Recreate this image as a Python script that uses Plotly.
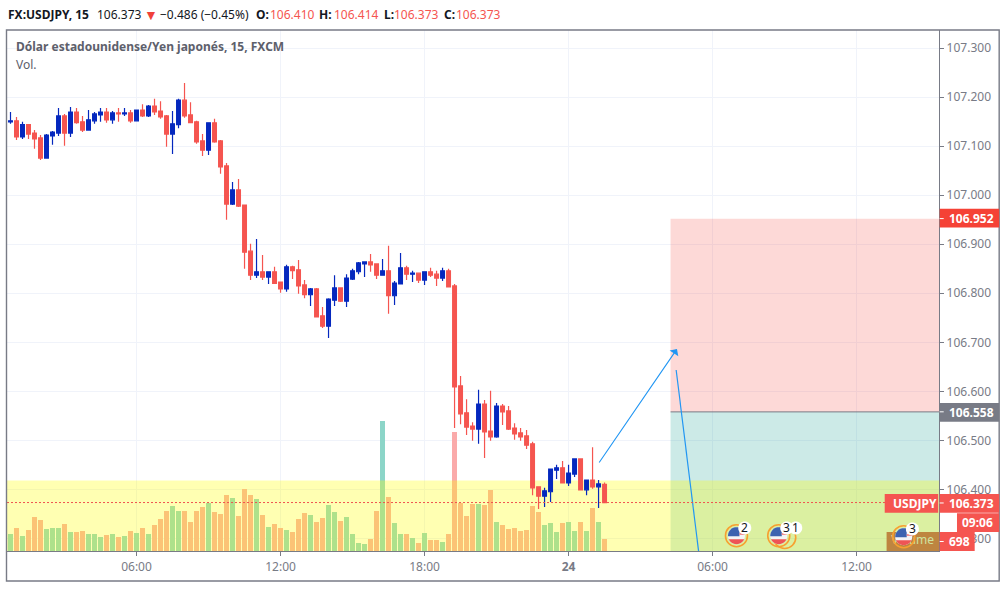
import math
import pandas as pd
import plotly.graph_objects as go

# ---------- data ----------
bar_start = "2019-06-23 00:45"
opens = [107.150,107.152,107.119,107.144,107.127,107.117,107.076,107.121,107.127,107.162,
         107.127,107.170,107.150,107.133,107.152,107.164,107.170,107.154,107.168,107.166,
         107.168,107.152,107.174,107.162,107.182,107.172,107.162,107.125,107.144,107.194,
         107.164,107.150,107.111,107.092,107.148,107.111,107.060,106.982,107.011,106.980,
         106.886,106.837,106.844,106.833,106.844,106.823,106.809,106.854,106.848,106.817,
         106.797,106.809,106.754,106.733,106.786,106.811,106.784,106.829,106.844,106.860,
         106.864,106.860,106.837,106.846,106.795,106.819,106.852,106.839,106.841,106.827,
         106.844,106.839,106.831,106.846,106.815,106.611,106.556,106.529,106.523,106.574,
         106.519,106.507,106.570,106.560,106.525,106.515,106.509,106.493,106.405,106.386,
         106.395,106.439,106.444,106.413,106.431,106.462,106.399,106.419,106.405,106.410]
highs = [107.170,107.160,107.150,107.144,107.133,107.123,107.125,107.131,107.178,107.166,
         107.180,107.178,107.162,107.174,107.170,107.178,107.178,107.172,107.178,107.178,
         107.174,107.174,107.186,107.184,107.197,107.192,107.164,107.172,107.197,107.229,
         107.190,107.152,107.125,107.148,107.156,107.113,107.066,107.027,107.033,106.980,
         106.901,106.911,106.878,106.844,106.854,106.823,106.858,106.856,106.868,106.827,
         106.811,106.811,106.772,106.790,106.837,106.811,106.839,106.850,106.864,106.864,
         106.880,106.860,106.870,106.897,106.825,106.882,106.856,106.846,106.841,106.844,
         106.852,106.846,106.852,106.850,106.819,106.631,106.584,106.537,106.603,106.582,
         106.601,106.576,106.574,106.570,106.535,106.525,106.521,106.497,106.405,106.403,
         106.441,106.450,106.458,106.450,106.462,106.462,106.419,106.486,106.419,106.414]
lows = [107.146,107.113,107.115,107.115,107.095,107.072,107.076,107.103,107.121,107.101,
        107.119,107.146,107.129,107.133,107.146,107.150,107.148,107.146,107.150,107.162,
        107.148,107.152,107.160,107.160,107.164,107.156,107.099,107.084,107.137,107.158,
        107.148,107.105,107.080,107.082,107.107,107.044,106.950,106.980,106.976,106.850,
        106.827,106.831,106.827,106.819,106.819,106.801,106.803,106.829,106.799,106.790,
        106.774,106.752,106.729,106.709,106.774,106.782,106.772,106.827,106.839,106.833,
        106.844,106.829,106.837,106.758,106.776,106.819,106.827,106.823,106.821,106.817,
        106.833,106.815,106.825,106.813,106.525,106.533,106.511,106.499,106.493,106.464,
        106.499,106.505,106.531,106.521,106.501,106.499,106.482,106.388,106.360,106.364,
        106.374,106.421,106.413,106.407,106.425,106.399,106.388,106.401,106.362,106.373]
closes = [107.152,107.119,107.144,107.125,107.115,107.076,107.123,107.129,107.162,107.127,
          107.170,107.148,107.133,107.154,107.166,107.170,107.154,107.168,107.166,107.168,
          107.152,107.174,107.162,107.182,107.170,107.160,107.125,107.146,107.194,107.162,
          107.148,107.109,107.092,107.148,107.109,107.058,106.982,107.011,106.978,106.884,
          106.837,106.844,106.833,106.844,106.820,106.809,106.854,106.846,106.815,106.797,
          106.809,106.752,106.733,106.788,106.811,106.784,106.831,106.846,106.862,106.864,
          106.858,106.837,106.846,106.795,106.821,106.852,106.839,106.841,106.827,106.844,
          106.837,106.831,106.846,106.813,106.609,106.554,106.527,106.523,106.574,106.517,
          106.507,106.570,106.558,106.523,106.513,106.507,106.490,106.403,106.386,106.397,
          106.441,106.444,106.413,106.433,106.462,106.399,106.419,106.405,106.411,106.373]
volumes = [986,1334,870,1218,1972,1798,1276,1334,1334,1566,1102,1102,1160,986,986,812,928,986,812,870,
           1160,1044,1334,986,1508,1856,2320,2610,2320,2320,1682,2320,2552,2784,2262,2146,3248,3074,2030,3596,
           3248,3016,2088,1392,1566,1334,1218,1102,1856,2204,2088,1682,1914,2668,2262,1740,1972,986,464,406,
           696,2320,7540,3132,1624,986,986,754,464,1044,638,638,522,986,6902,2784,2030,2726,2726,2668,
           3538,1682,1508,1276,1334,1160,1218,2610,2262,1508,1624,1102,1624,1682,1160,1682,1160,2494,1682,698]

tick_times = ["2019-06-23 06:00","2019-06-23 12:00","2019-06-23 18:00",
              "2019-06-24 00:00","2019-06-24 06:00","2019-06-24 12:00"]
tick_labels = ["06:00","12:00","18:00","<b>24</b>","06:00","12:00"]
price_ticks = [106.3,106.4,106.5,106.6,106.7,106.8,106.9,107.0,107.1,107.2,107.3]

last_price = 106.373
stop_price = 106.952
entry_price = 106.558
band_top = 106.418

# ---------- styling ----------
FONT = "Noto Sans"
RED = "#F55550"
BLUE = "#0528BE"
GRID = "#F0F3FA"
AXIS = "#787B86"
L, R, T, B = 7.0, 939.3, 30.3, 551.0
PRICE_MIN, PRICE_MAX = 106.2741, 107.3373
VOL_MAX = 30218
X0, X1 = "2019-06-23 00:36:15", "2019-06-24 15:26"

times = pd.date_range(bar_start, periods=len(opens), freq="15min")
vol_colors = ["#8CD5C8" if c >= o else "#FAAAAA" for o, c in zip(opens, closes)]

def px(x): return (x - L) / (R - L)
def py(y): return (B - y) / (B - T)
# the shaded zones live in the base subplot, whose y axis carries volume units
def on_base(price): return (price - PRICE_MIN) / (PRICE_MAX - PRICE_MIN) * VOL_MAX

shapes, annotations = [], []

def text(x, y, s, color="#131722", size=12, anchor="left"):
    annotations.append(dict(xref="paper", yref="paper", x=px(x), y=py(y), text=s, showarrow=False,
                            xanchor=anchor, yanchor="middle", borderpad=0,
                            font=dict(family=FONT, size=size, color=color)))

def box(x0, y0, x1, y1, color, tick_y=None):
    shapes.append(dict(type="rect", xref="paper", yref="paper", x0=px(x0), x1=px(x1), y0=py(y0), y1=py(y1),
                       fillcolor=color, line=dict(width=0), layer="above"))
    if tick_y is not None:
        shapes.append(dict(type="line", xref="paper", yref="paper", x0=px(940), x1=px(944), y0=py(tick_y),
                           y1=py(tick_y), line=dict(color="white", width=1), layer="above"))

def disc_part(cx, cy, r, color, x0=-99, x1=99, y0=-99, y1=99):
    pts = []
    for k in range(32):
        a = 2 * math.pi * k / 32
        dx = min(max(r * math.cos(a), x0), x1)
        dy = min(max(r * math.sin(a), y0), y1)
        pts.append(f"{px(cx + dx):.5f},{py(cy + dy):.5f}")
    shapes.append(dict(type="path", xref="paper", yref="paper", path="M" + " L".join(pts) + " Z",
                       fillcolor=color, line=dict(width=0), layer="above"))

def ring(cx, cy, r):
    shapes.append(dict(type="circle", xref="paper", yref="paper", x0=px(cx - r), x1=px(cx + r),
                       y0=py(cy + r), y1=py(cy - r), line=dict(color="#F7A030", width=1.6),
                       fillcolor="rgba(0,0,0,0)", layer="above"))

def flag(cx, cy):
    disc_part(cx, cy, 8.5, "#F4F4F6")
    disc_part(cx, cy, 8.5, "#3D63B0", x1=3, y1=0.5)
    disc_part(cx, cy, 8.5, "#EE5555", y0=3.5)
    disc_part(cx, cy, 8.5, "#EE7070", x0=3, y0=-2.5, y1=-1)

def badge(cx, cy, s):
    disc_part(cx, cy, 6.5, "white")
    text(cx, cy, s, "#131722", 12, "center")

# ---------- drawing objects ----------
fig = go.Figure()

fig.add_trace(go.Bar(x=times, y=volumes, marker=dict(color=vol_colors, line=dict(width=0)),
                     width=750000, yaxis="y", xaxis="x", showlegend=False, hoverinfo="skip"))
# translucent yellow band above the volume bars, below the candles
fig.add_trace(go.Scatter(x=[X0, X1, X1, X0], y=[PRICE_MIN, PRICE_MIN, band_top, band_top], yaxis="y2",
                         mode="lines", fill="toself", fillcolor="rgba(255,255,0,0.3)",
                         line=dict(width=0), showlegend=False, hoverinfo="skip"))
fig.add_trace(go.Candlestick(x=times, open=opens, high=highs, low=lows, close=closes, yaxis="y3",
                             whiskerwidth=0, showlegend=False, hoverinfo="skip",
                             increasing=dict(line=dict(color=BLUE, width=1.2), fillcolor=BLUE),
                             decreasing=dict(line=dict(color=RED, width=1.2), fillcolor=RED)))
# the faded "Volume" pane label, sitting under the third event flag
fig.add_trace(go.Scatter(x=["2019-06-24 13:15", "2019-06-24 15:30", "2019-06-24 15:30", "2019-06-24 13:15"],
                         y=[PRICE_MIN, PRICE_MIN, 106.3128, 106.3128], yaxis="y3", mode="lines", fill="toself",
                         fillcolor="#BE8540", line=dict(width=0), showlegend=False, hoverinfo="skip"))
fig.add_trace(go.Scatter(x=["2019-06-24 14:20"], y=[106.2935], yaxis="y3", mode="text", text=["Volume"],
                         textfont=dict(family=FONT, size=12, color="#CFE3A0"), showlegend=False, hoverinfo="skip"))

# position tool
shapes.append(dict(type="rect", xref="x", yref="y", x0="2019-06-24 04:15", x1=X1,
                   y0=on_base(entry_price), y1=on_base(stop_price),
                   fillcolor="rgba(244,67,54,0.2)", line=dict(width=0), layer="between"))
shapes.append(dict(type="rect", xref="x", yref="y", x0="2019-06-24 04:15", x1=X1,
                   y0=0, y1=on_base(entry_price),
                   fillcolor="rgba(0,150,136,0.2)", line=dict(width=0), layer="between"))
shapes.append(dict(type="line", xref="x", yref="y3", x0="2019-06-24 04:15", x1=X1, y0=entry_price, y1=entry_price,
                   line=dict(color=AXIS, width=1), layer="above"))
# drawn lines
shapes.append(dict(type="line", xref="x", yref="y3", x0="2019-06-24 04:29", x1="2019-06-24 05:25",
                   y0=106.6435, y1=PRICE_MIN, line=dict(color="#2196F3", width=1.2), layer="above"))
annotations.append(dict(xref="x", yref="y3", axref="x", ayref="y3", x="2019-06-24 04:31", y=106.6863,
                        ax="2019-06-24 01:14", ay=106.4516, text="", showarrow=True, arrowhead=1, arrowsize=1.6,
                        arrowwidth=1.1, arrowcolor="#2196F3"))
# last price line
shapes.append(dict(type="line", xref="x", yref="y3", x0=X0, x1=X1, y0=last_price, y1=last_price,
                   line=dict(color="#F0524F", width=1, dash="2px,2px"), layer="above"))

# outer frame
shapes.append(dict(type="rect", xref="paper", yref="paper", x0=px(6.5), x1=px(999.5), y0=py(581), y1=py(30.3),
                   line=dict(color=AXIS, width=1.4), fillcolor="rgba(0,0,0,0)", layer="above"))

# price labels
box(940, 209, 999.5, 227.7, "#F54236", 218.8)
text(948, 218.8, "<b>106.952</b>", "white")
box(940, 403, 999.5, 421.7, AXIS, 411.9)
text(948, 412.3, "<b>106.558</b>", "white")
box(885, 494, 938.5, 512.7, RED)
text(892, 503.3, "<b>USDJPY</b>", "white")
box(940, 494, 999.5, 512.7, RED, 503)
text(948, 503.3, "<b>106.373</b>", "white")
box(957.3, 513.3, 999.5, 532, RED)
text(961, 522.7, "<b>09:06</b>", "white")
box(940, 532, 975, 551, RED, 541.5)
text(948, 541.5, "<b>698</b>", "white")

# event flags
ring(736.7, 535.7, 11); flag(736.7, 535.7); badge(745, 528, "2")
ring(785, 537.5, 11); ring(779, 535.7, 11); flag(779, 535.7)
badge(796, 528, "1"); badge(787, 528, "3")
ring(904, 536.7, 11); flag(904, 536.7); badge(912.7, 529, "3")

# header line
text(6.7, 15, "<b>FX:USDJPY, 15</b>")
text(96, 15, "106.373")
text(143, 15, "▼", "#F0413A", 14)
text(159, 15, "−0.486 (−0.45%)")
text(255, 15, "<b>O:</b>")
text(269, 15, "106.410", "#F55550")
text(318, 15, "<b>H:</b>")
text(333, 15, "106.414", "#F55550")
text(383, 15, "<b>L:</b>")
text(393, 15, "106.373", "#F55550")
text(443, 15, "<b>C:</b>")
text(455, 15, "106.373", "#F55550")
text(15, 47, "<b>Dólar estadounidense/Yen japonés, 15, FXCM</b>", "#5D606B")
text(15, 65, "Vol.", "#5D606B")

fig.update_layout(
    width=1006, height=589, margin=dict(l=L, r=1006 - R, t=T, b=589 - B, pad=0), autosize=False,
    paper_bgcolor="white", plot_bgcolor="white", bargap=0, boxgap=0.37, boxgroupgap=0, hovermode=False,
    font=dict(family=FONT, size=12, color=AXIS), shapes=shapes, annotations=annotations, showlegend=False,
    xaxis=dict(type="date", range=[X0, X1], rangeslider=dict(visible=False), tickmode="array",
               tickvals=tick_times, ticktext=tick_labels, showgrid=True, gridcolor=GRID, gridwidth=1,
               ticks="outside", ticklen=4, tickcolor=AXIS, tickwidth=1, showline=True, linecolor=AXIS, linewidth=1.4,
               zeroline=False, tickfont=dict(family=FONT, size=12, color=AXIS)),
    yaxis=dict(range=[0, VOL_MAX], visible=False, showgrid=False, zeroline=False),
    yaxis2=dict(range=[PRICE_MIN, PRICE_MAX], overlaying="y", visible=False, showgrid=False, zeroline=False),
    yaxis3=dict(range=[PRICE_MIN, PRICE_MAX], overlaying="y", side="right", anchor="x", tickmode="array",
                tickvals=price_ticks, ticktext=[f"{v:.3f}" for v in price_ticks], showgrid=True, gridcolor=GRID,
                gridwidth=1, ticks="outside", ticklen=4, tickcolor=AXIS, tickwidth=1, showline=True, linecolor=AXIS,
                linewidth=1.4, zeroline=False, tickfont=dict(family=FONT, size=12, color=AXIS)),
)

fig.write_html("out.html", config={"displayModeBar": False},
               post_script="document.body.style.margin='0';document.documentElement.style.overflow='hidden';")
